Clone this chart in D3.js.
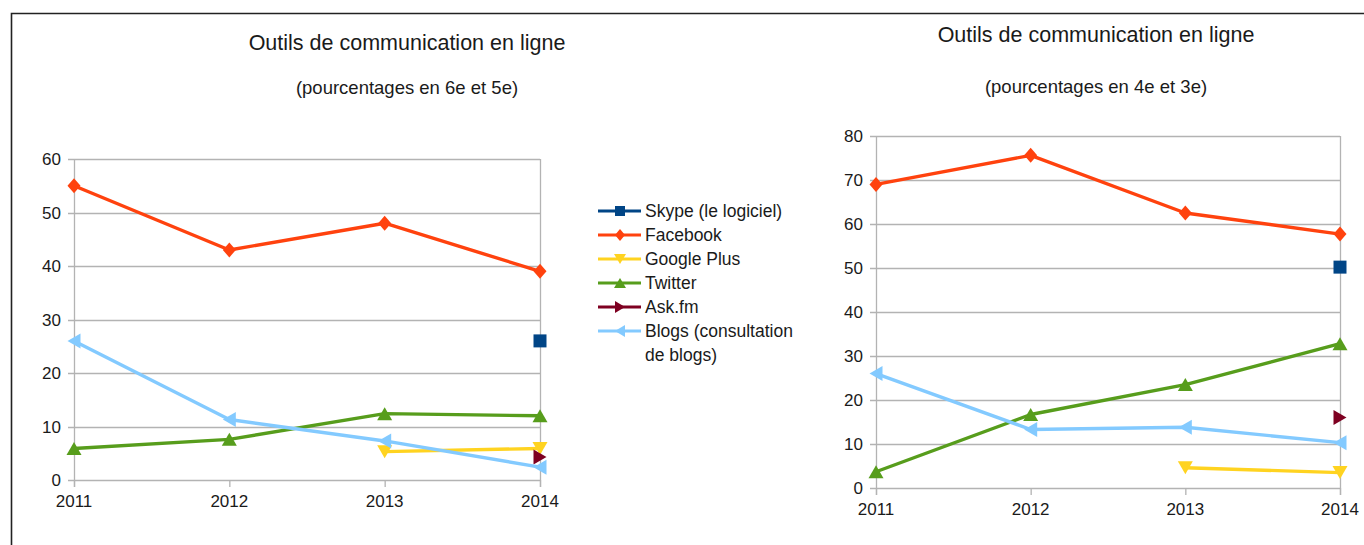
<!DOCTYPE html>
<html><head><meta charset="utf-8">
<script src="https://cdn.jsdelivr.net/npm/d3@7"></script>
<style>body{margin:0;background:#fff}svg{display:block}text{font-family:"Liberation Sans",Arial,sans-serif;fill:#1a1a1a}</style>
</head><body>
<svg id="c" width="1364" height="545"></svg>
<script>
const years = ["2011", "2012", "2013", "2014"];
const seriesNames = ["Skype (le logiciel)", "Facebook", "Google Plus", "Twitter", "Ask.fm", "Blogs (consultation de blogs)"];
const seriesColors = ["#004586", "#ff420e", "#ffd320", "#579d1c", "#7e0021", "#83caff"];
const seriesMarkers = ["square", "diamond", "down", "up", "right", "left"];

// Chart 1: 6e et 5e
const left_skype = [null, null, null, 26];
const left_facebook = [55, 43, 48, 39];
const left_google = [null, null, 5.3, 5.9];
const left_twitter = [5.9, 7.6, 12.4, 12];
const left_askfm = [null, null, null, 4.3];
const left_blogs = [26, 11.3, 7.3, 2.4];
const leftTicks = [0, 10, 20, 30, 40, 50, 60];

// Chart 2: 4e et 3e
const right_skype = [null, null, null, 50.2];
const right_facebook = [69, 75.6, 62.5, 57.7];
const right_google = [null, null, 4.6, 3.5];
const right_twitter = [3.7, 16.7, 23.5, 32.8];
const right_askfm = [null, null, null, 16];
const right_blogs = [26, 13.3, 13.8, 10.3];
const rightTicks = [0, 10, 20, 30, 40, 50, 60, 70, 80];

const svg = d3.select("#c");

// outer frame
svg.append("path").attr("d", "M11.5,545 L11.5,13.5 L1364,13.5")
  .attr("fill", "none").attr("stroke", "#222").attr("stroke-width", 1.6);

function markerPath(type, s) {
  const h = s / 2;
  switch (type) {
    case "square": return `M${-h},${-h}L${h},${-h}L${h},${h}L${-h},${h}Z`;
    case "diamond": return `M0,${-h - 1}L${h},0L0,${h + 1}L${-h},0Z`;
    case "up": return `M0,${-h}L${h + 1},${h}L${-h - 1},${h}Z`;
    case "down": return `M0,${h}L${h + 1},${-h}L${-h - 1},${-h}Z`;
    case "right": return `M${h},0L${-h},${-h - 1}L${-h},${h + 1}Z`;
    case "left": return `M${-h},0L${h},${-h - 1}L${h},${h + 1}Z`;
  }
}

function drawChart(cfg) {
  const g = svg.append("g");
  const x = d3.scalePoint().domain(years).range([cfg.x0, cfg.x1]);
  const y = d3.scaleLinear().domain([0, cfg.ticks[cfg.ticks.length - 1]]).range([cfg.y0, cfg.y1]);

  // gridlines
  g.append("g").selectAll("line").data(cfg.ticks).join("line")
    .attr("x1", cfg.x0 - 6).attr("x2", cfg.x1)
    .attr("y1", d => Math.round(y(d)) + 0.5).attr("y2", d => Math.round(y(d)) + 0.5)
    .attr("stroke", "#b3b3b3").attr("stroke-width", 1.3);
  // left axis & right border
  [cfg.x0, cfg.x1].forEach(xx => {
    g.append("line").attr("x1", xx + 0.5).attr("x2", xx + 0.5)
      .attr("y1", cfg.y1).attr("y2", cfg.y0 + 7)
      .attr("stroke", "#b3b3b3").attr("stroke-width", 1.3);
  });
  // x ticks
  g.append("g").selectAll("line").data(years).join("line")
    .attr("x1", d => x(d) + 0.5).attr("x2", d => x(d) + 0.5)
    .attr("y1", cfg.y0).attr("y2", cfg.y0 + 7)
    .attr("stroke", "#b3b3b3").attr("stroke-width", 1.3);

  // y labels
  g.append("g").selectAll("text").data(cfg.ticks).join("text")
    .attr("x", cfg.x0 - 13).attr("y", d => y(d) + 6)
    .attr("text-anchor", "end").attr("font-size", 17).text(d => d);
  // x labels
  g.append("g").selectAll("text").data(years).join("text")
    .attr("x", d => x(d)).attr("y", cfg.y0 + 27)
    .attr("text-anchor", "middle").attr("font-size", 17).text(d => d);

  // titles
  g.append("text").attr("x", cfg.tx).attr("y", cfg.ty1).attr("text-anchor", "middle")
    .attr("font-size", 21.5).text(cfg.title);
  g.append("text").attr("x", cfg.tx).attr("y", cfg.ty2).attr("text-anchor", "middle")
    .attr("font-size", 18.5).text(cfg.subtitle);

  // series
  cfg.series.forEach((vals, i) => {
    const pts = vals.map((v, j) => ({ yr: years[j], v })).filter(p => p.v != null);
    const line = d3.line().x(p => x(p.yr)).y(p => y(p.v));
    if (pts.length > 1) {
      g.append("path").attr("d", line(pts)).attr("fill", "none")
        .attr("stroke", seriesColors[i]).attr("stroke-width", 3.4)
        .attr("stroke-linejoin", "round");
    }
    g.append("g").selectAll("path").data(pts).join("path")
      .attr("transform", p => `translate(${x(p.yr)},${y(p.v)})`)
      .attr("d", markerPath(seriesMarkers[i], 13))
      .attr("fill", seriesColors[i]);
  });
}

drawChart({
  x0: 74, x1: 540, y0: 480, y1: 159, ticks: leftTicks,
  series: [left_skype, left_facebook, left_google, left_twitter, left_askfm, left_blogs],
  title: "Outils de communication en ligne", subtitle: "(pourcentages en 6e et 5e)",
  tx: 407, ty1: 50, ty2: 94
});
drawChart({
  x0: 876, x1: 1340, y0: 488, y1: 136, ticks: rightTicks,
  series: [right_skype, right_facebook, right_google, right_twitter, right_askfm, right_blogs],
  title: "Outils de communication en ligne", subtitle: "(pourcentages en 4e et 3e)",
  tx: 1096, ty1: 42, ty2: 93
});

// legend
const lg = svg.append("g");
const legendLines = [["Skype (le logiciel)"], ["Facebook"], ["Google Plus"], ["Twitter"], ["Ask.fm"], ["Blogs (consultation", "de blogs)"]];
seriesNames.forEach((n, i) => {
  const yy = 211 + i * 24;
  lg.append("line").attr("x1", 598).attr("x2", 641).attr("y1", yy).attr("y2", yy)
    .attr("stroke", seriesColors[i]).attr("stroke-width", 3.2);
  lg.append("path").attr("transform", `translate(620,${yy})`)
    .attr("d", markerPath(seriesMarkers[i], 10)).attr("fill", seriesColors[i]);
  legendLines[i].forEach((t, k) => {
    lg.append("text").attr("x", 645).attr("y", yy + 6 + k * 24).attr("font-size", 17.5).text(t);
  });
});
</script>
</body></html>
